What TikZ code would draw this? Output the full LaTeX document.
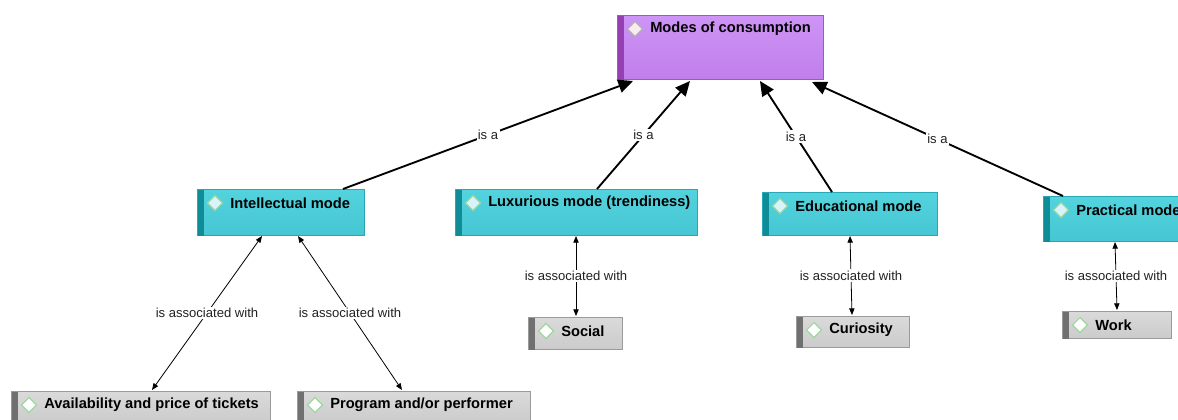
\documentclass[tikz,border=0pt]{standalone}
\usepackage{fontspec}
\setmainfont{Liberation Sans}
\usetikzlibrary{calc,arrows.meta,shapes.geometric}

\definecolor{purpleTop}{HTML}{CE94F6}
\definecolor{purpleBot}{HTML}{C07EEB}
\definecolor{purpleLine}{HTML}{9C58C8}
\definecolor{purpleStripe}{HTML}{9440B4}
\definecolor{tealTop}{HTML}{52D3DE}
\definecolor{tealBot}{HTML}{45C6D2}
\definecolor{tealLine}{HTML}{2AA7B4}
\definecolor{tealStripe}{HTML}{0E8D97}
\definecolor{grayTop}{HTML}{DADADA}
\definecolor{grayBot}{HTML}{CBCBCB}
\definecolor{grayLine}{HTML}{9A9A9A}
\definecolor{grayStripe}{HTML}{707070}
\definecolor{iconLine}{HTML}{9ED79E}
\definecolor{labelText}{HTML}{222222}

\tikzset{
  conceptbox/.style={rectangle, inner sep=0pt, line width=0.75pt},
  purplebox/.style={conceptbox, draw=purpleLine, top color=purpleTop, bottom color=purpleBot},
  tealbox/.style={conceptbox, draw=tealLine, top color=tealTop, bottom color=tealBot},
  graybox/.style={conceptbox, draw=grayLine, top color=grayTop, bottom color=grayBot},
  iconbase/.style={diamond, inner sep=0pt, minimum width=11.5pt, minimum height=11.5pt, line width=0.9pt},
  purpleicon/.style={iconbase, draw=gray!60, fill=purple!8},
  tealicon/.style={iconbase, draw=iconLine, fill=cyan!15},
  grayicon/.style={iconbase, draw=iconLine, fill=white},
  nodetext/.style={anchor=west, inner sep=0pt, text=black,
    font=\bfseries\fontsize{11}{13}\selectfont},
  lbl/.style={fill=white, inner sep=1pt, text=labelText,
    font=\fontsize{9.8}{11}\selectfont},
  isa/.style={line width=1.4pt, -{Triangle[length=11pt,width=10pt]}},
  assoc/.style={line width=0.6pt, {Triangle[length=5pt,width=4pt]}-{Triangle[length=5pt,width=4pt]}},
}

% #1 box style, #2 stripe colour, #3 icon style, #4 name, #5 x, #6 y, #7 width, #8 height, #9 text
\newcommand\concept[9]{%
  \node[#1, minimum width=#7*0.75pt, minimum height=#8*0.75pt, anchor=north west] (#4) at (#5,#6) {};
  \fill[#2] ($(#4.north west)+(0.5,0.5)$) rectangle ($(#4.south west)+(7,-0.5)$);
  \node[#3] (#4-icon) at ($(#4.north west)+(18,14)$) {};
  \node[nodetext] (#4-text) at ($(#4.north west)+(33,14)$) {#9};
}

\begin{document}
\begin{tikzpicture}[x=0.75pt, y=-0.75pt]
\clip (0,0) rectangle (1178,419);
\useasboundingbox (0,0) rectangle (1178,419);

% concepts
\concept{purplebox}{purpleStripe}{purpleicon}{modes}{617}{15}{206}{64}{Modes of consumption}
\concept{tealbox}{tealStripe}{tealicon}{intel}{197}{189}{167}{46}{Intellectual mode}
\concept{tealbox}{tealStripe}{tealicon}{lux}{455}{189}{242}{46}{Luxurious mode (trendiness)}
\concept{tealbox}{tealStripe}{tealicon}{edu}{762}{192}{175}{43}{Educational mode}
\concept{tealbox}{tealStripe}{tealicon}{prac}{1043}{196}{170}{45}{Practical mode}
\concept{graybox}{grayStripe}{grayicon}{social}{528}{317}{94}{32}{Social}
\concept{graybox}{grayStripe}{grayicon}{curio}{796}{316}{113}{31}{Curiosity}
\concept{graybox}{grayStripe}{grayicon}{work}{1062}{311}{109}{27}{Work}
\concept{graybox}{grayStripe}{grayicon}{avail}{11}{391}{259}{32}{Availability and price of tickets}
\concept{graybox}{grayStripe}{grayicon}{prog}{297}{391}{233}{32}{Program and/or performer}

% "is a" links
\draw[isa] ($(intel.north west)+(146,0)$) -- node[lbl]{is a} ($(modes.south west)+(16,1)$);
\draw[isa] ($(lux.north west)+(142,0)$) -- node[lbl]{is a} ($(modes.south west)+(73,1)$);
\draw[isa] ($(edu.north west)+(70,0)$) -- node[lbl]{is a} ($(modes.south west)+(143,1)$);
\draw[isa] ($(prac.north west)+(20,0)$) -- node[lbl]{is a} ($(modes.south west)+(195,2)$);

% "is associated with" links
\draw[assoc] ($(intel.south west)+(65,0)$) -- node[lbl]{is associated with} ($(avail.north west)+(141,-1)$);
\draw[assoc] ($(intel.south west)+(101,0)$) -- node[lbl]{is associated with} ($(prog.north west)+(105,-1)$);
\draw[assoc] ($(lux.south west)+(121,0)$) -- node[lbl]{is associated with} ($(social.north west)+(48,-1)$);
\draw[assoc] ($(edu.south west)+(88,0)$) -- node[lbl]{is associated with} ($(curio.north west)+(56,-1)$);
\draw[assoc] ($(prac.south west)+(72,0)$) -- node[lbl]{is associated with} ($(work.north west)+(55,-1)$);
\end{tikzpicture}
\end{document}
